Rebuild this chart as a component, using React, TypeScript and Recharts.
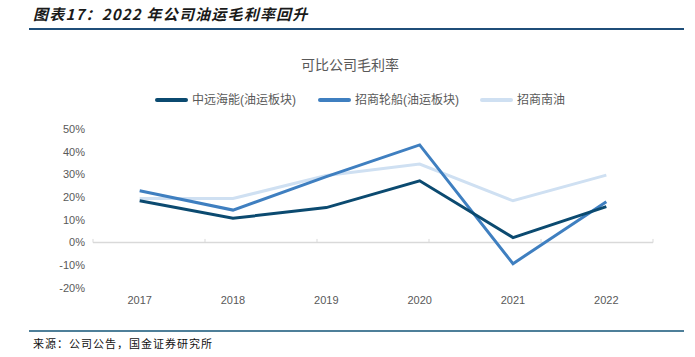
import React from 'react';
import { LineChart, Line, XAxis, YAxis, ReferenceLine } from 'recharts';

const years = ['2017', '2018', '2019', '2020', '2021', '2022'];
const cosco = [18.4, 10.7, 15.4, 27.2, 2.2, 15.8];
const cmes = [22.8, 14.3, 29.0, 43.0, -9.3, 18.0];
const cmsNanyou = [19.4, 19.4, 29.5, 34.6, 18.4, 29.7];
const yTicks = [-20, -10, 0, 10, 20, 30, 40, 50];
// band boundaries for the small tick marks on the 0% line
const bandEdges = [0, 1, 2, 3, 4, 5, 6];

const SERIES = [
  { key: 'cosco', name: '中远海能(油运板块)', color: '#0b4a70', x: 155 },
  { key: 'cmes', name: '招商轮船(油运板块)', color: '#3f7fc0', x: 318 },
  { key: 'nanyou', name: '招商南油', color: '#cfe0f2', x: 480 },
];

const data = years.map((year, i) => ({
  year,
  cosco: cosco[i],
  cmes: cmes[i],
  nanyou: cmsNanyou[i],
}));

const FONT = '"Liberation Sans", "Noto Sans CJK SC", sans-serif';
const GREY = '#595959';

export default function App() {
  return (
    <div style={{ position: 'absolute', left: 0, top: 0, width: 695, height: 357, background: '#fff', fontFamily: FONT }}>
      <div style={{
        position: 'absolute', left: 33, top: 4, fontSize: 15, fontWeight: 700, fontStyle: 'italic',
        color: '#1a1a1a', fontFamily: '"Noto Sans CJK SC", sans-serif', lineHeight: '20px', letterSpacing: 1.2,
      }}>
        图表17：2022 年公司油运毛利率回升
      </div>
      <div style={{ position: 'absolute', left: 29, top: 28, width: 655, height: 2, background: '#1f4e79' }} />

      <div style={{ position: 'absolute', left: 0, top: 56, width: 700, textAlign: 'center', fontSize: 14, color: GREY, lineHeight: '18px' }}>
        可比公司毛利率
      </div>

      {SERIES.map((s) => (
        <div key={s.key} style={{ position: 'absolute', left: s.x, top: 92, display: 'flex', alignItems: 'center', fontSize: 12, color: GREY, lineHeight: '16px', whiteSpace: 'nowrap' }}>
          <span style={{ display: 'inline-block', width: 33, height: 4, borderRadius: 2, background: s.color, marginRight: 4 }} />
          {s.name}
        </div>
      ))}

      <div style={{ position: 'absolute', left: 0, top: 0 }}>
        <LineChart width={695} height={320} data={data} margin={{ top: 129, right: 42, bottom: 0, left: 33 }}>
          <XAxis
            dataKey="year"
            scale="band"
            axisLine={false}
            tickLine={false}
            height={32}
            tick={{ fill: GREY, fontSize: 11, fontFamily: FONT }}
          />
          <XAxis xAxisId="edges" type="number" domain={[0, 6]} hide />
          <YAxis
            domain={[-20, 50]}
            ticks={yTicks}
            axisLine={false}
            tickLine={false}
            width={60}
            interval={0}
            tickFormatter={(v) => `${v}%`}
            tick={{ fill: GREY, fontSize: 11, fontFamily: FONT }}
          />
          <ReferenceLine y={0} stroke="#d9d9d9" strokeWidth={1.5} />
          {bandEdges.map((e) => (
            <ReferenceLine
              key={`edge-${e}`}
              xAxisId="edges"
              segment={[{ x: e, y: 0 }, { x: e, y: 1.6 }]}
              stroke="#d9d9d9"
              strokeWidth={1}
            />
          ))}
          {SERIES.slice().reverse().map((s) => (
            <Line
              key={s.key}
              dataKey={s.key}
              name={s.name}
              stroke={s.color}
              strokeWidth={3}
              dot={false}
              type="linear"
              isAnimationActive={false}
            />
          ))}
        </LineChart>
      </div>

      <div style={{ position: 'absolute', left: 29, top: 330, width: 655, height: 2, background: '#4e7f99' }} />
      <div style={{
        position: 'absolute', left: 33, top: 336, fontSize: 11, color: '#111',
        fontFamily: '"Noto Sans CJK SC", sans-serif', lineHeight: '14px', letterSpacing: 1,
      }}>
        来源：公司公告，国金证券研究所
      </div>
    </div>
  );
}
